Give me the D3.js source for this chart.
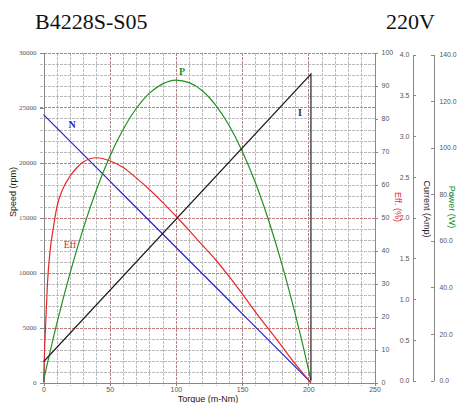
<!DOCTYPE html>
<html>
<head>
<meta charset="utf-8">
<script src="https://cdn.jsdelivr.net/npm/d3@7"></script>
<style>
  body { margin: 0; background: #fff; }
  svg { display: block; }
  .tk text { font-family: "Liberation Sans", Arial, sans-serif; fill: #555; }
  .tk path, .tk line { stroke: #888; shape-rendering: crispEdges; }
</style>
</head>
<body>
<svg></svg>
<script>
// torque grid (m-Nm)
var torque = [0, 10, 20, 30, 40, 50, 60, 70, 80, 90, 100, 110, 120, 130, 140, 150, 160, 170, 180, 190, 200, 202];
var speed = [24350, 23145, 21939, 20734, 19528, 18323, 17117, 15912, 14707, 13501, 12296, 11090, 9885, 8679, 7474, 6268, 5063, 3857, 2652, 1447, 241, 0];
var power = [0, 24.3, 46.0, 65.2, 81.9, 96.1, 107.7, 116.8, 123.4, 127.4, 129.0, 127.9, 124.4, 118.3, 109.7, 98.6, 85.0, 68.8, 50.1, 28.8, 5.1, 0];

var effTorque = [0, 1, 2, 3, 5, 7.5, 10, 15, 20, 25, 30, 40, 50, 60, 70, 80, 90, 100, 110, 120, 130, 140, 150, 160, 170, 180, 190, 200, 202];
var eff = [0, 12, 21, 30, 40, 47, 53, 59, 62.5, 65, 66.8, 68.1, 67.2, 65.2, 62, 58.5, 54.6, 50.4, 46.1, 41.6, 37.2, 32.2, 26.9, 21.4, 16.2, 11.0, 5.7, 0.9, 0];

var curTorque = [0, 202, 202];
var current = [0.23, 3.76, 0];

var xTicks = [0, 50, 100, 150, 200, 250];
var speedTicks = [0, 5000, 10000, 15000, 20000, 25000, 30000];
var effTicks = [0, 10, 20, 30, 40, 50, 60, 70, 80, 90, 100];
var curTicks = [0, 0.5, 1.0, 1.5, 2.0, 2.5, 3.0, 3.5, 4.0];
var powTicks = [0, 20, 40, 60, 80, 100, 120, 140];

var W = 457, H = 403;
var svg = d3.select("svg").attr("width", W).attr("height", H);

var x = d3.scaleLinear().domain([0, 250]).range([43.5, 374.5]);
var ySpd = d3.scaleLinear().domain([0, 30000]).range([382.5, 52.5]);
var yEff = d3.scaleLinear().domain([0, 100]).range([382.5, 52.5]);
var yCur = d3.scaleLinear().domain([0, 4]).range([380.5, 54.5]);
var yPow = d3.scaleLinear().domain([0, 140]).range([380.5, 54.5]);

// grid
var grid = svg.append("g").style("shape-rendering", "crispEdges");
grid.selectAll(".vg").data(d3.range(10, 251, 10)).enter().append("line")
    .attr("x1", d => Math.round(x(d)) + 0.5).attr("x2", d => Math.round(x(d)) + 0.5)
    .attr("y1", ySpd(30000)).attr("y2", ySpd(0) + 3)
    .attr("stroke", d => d % 50 == 0 ? "#bd7f7f" : "#bcbcbc")
    .attr("stroke-dasharray", "3,1");
grid.selectAll(".hg").data(d3.range(1000, 30001, 1000)).enter().append("line")
    .attr("x1", x(0) - 4).attr("x2", x(250))
    .attr("y1", d => Math.round(ySpd(d)) + 0.5).attr("y2", d => Math.round(ySpd(d)) + 0.5)
    .attr("stroke", d => d % 5000 == 0 ? "#bd7f7f" : "#bcbcbc")
    .attr("stroke-dasharray", "3,1");

// axes
svg.append("g").attr("class", "tk")
    .attr("transform", "translate(0," + ySpd(0) + ")")
    .call(d3.axisBottom(x).tickValues(xTicks).tickSize(3).tickSizeOuter(0).tickPadding(2))
    .selectAll("text").style("font-size", "7px");
svg.append("g").attr("class", "tk")
    .attr("transform", "translate(" + x(0) + ",0)")
    .call(d3.axisLeft(ySpd).tickValues(speedTicks).tickFormat(d3.format("d")).tickSize(4).tickSizeOuter(0).tickPadding(3))
    .selectAll("text").style("font-size", "7px").style("font-family", "'Liberation Serif', serif");
svg.append("g").attr("class", "tk")
    .attr("transform", "translate(" + x(250) + ",0)")
    .call(d3.axisRight(yEff).tickValues(effTicks).tickSize(3).tickSizeOuter(0).tickPadding(4))
    .selectAll("text").style("font-size", "7px");
svg.append("g").attr("class", "tk")
    .attr("transform", "translate(412.5,0)")
    .call(d3.axisLeft(yCur).tickValues(curTicks).tickFormat(d3.format(".1f")).tickSize(-3).tickSizeOuter(0).tickPadding(3))
    .selectAll("text").style("font-size", "7px");
svg.append("g").attr("class", "tk")
    .attr("transform", "translate(433.5,0)")
    .call(d3.axisRight(yPow).tickValues(powTicks).tickFormat(d3.format(".1f")).tickSize(-3).tickSizeOuter(0).tickPadding(6))
    .selectAll("text").style("font-size", "6.8px");

// series
function drawLine(xs, ys, yScale, color, width, curve) {
    var pts = xs.map((t, i) => [t, ys[i]]);
    svg.append("path")
        .datum(pts)
        .attr("fill", "none")
        .attr("stroke", color)
        .attr("stroke-width", width)
        .attr("d", d3.line().x(d => x(d[0])).y(d => yScale(d[1])).curve(curve || d3.curveLinear));
}
drawLine(torque, speed, ySpd, "#2323d6", 1.2);
drawLine(effTorque, eff, yEff, "#e8262a", 1.2, d3.curveMonotoneX);
drawLine(torque, power, yPow, "#239023", 1.2, d3.curveMonotoneX);
drawLine(curTorque, current, yCur, "#202020", 1.2);

// curve labels
var lab = svg.append("g").style("font-family", "'Liberation Serif', serif").style("font-weight", "bold").style("font-size", "10px");
lab.append("text").attr("x", 72).attr("y", 128).attr("text-anchor", "middle").attr("fill", "#2323d6").text("N");
lab.append("text").attr("x", 182).attr("y", 75).attr("text-anchor", "middle").attr("fill", "#239023").text("P");
lab.append("text").attr("x", 300).attr("y", 116).attr("text-anchor", "middle").attr("fill", "#333").text("I");
lab.append("text").attr("x", 70).attr("y", 248).attr("text-anchor", "middle").attr("fill", "#e8262a").style("font-weight", "normal").text("Eff");

// axis titles
var ttl = svg.append("g").style("font-family", "'Liberation Sans', Arial, sans-serif").style("font-size", "9px");
ttl.append("text").attr("transform", "translate(16,192) rotate(-90)").attr("text-anchor", "middle").attr("fill", "#222").text("Speed (rpm)");
ttl.append("text").attr("x", 208).attr("y", 402).attr("text-anchor", "middle").attr("fill", "#222").text("Torque (m-Nm)");
ttl.append("text").attr("transform", "translate(395,207) rotate(90)").attr("text-anchor", "middle").attr("fill", "#e8262a").text("Eff. (%)");
ttl.append("text").attr("transform", "translate(424,209) rotate(90)").attr("text-anchor", "middle").attr("fill", "#222").text("Current (Amp)");
ttl.append("text").attr("transform", "translate(449,207) rotate(90)").attr("text-anchor", "middle").attr("fill", "#239023").text("Power (W)");

// headings
svg.append("text").attr("x", 35).attr("y", 29).style("font-family", "'Liberation Serif', serif").style("font-size", "22px").attr("fill", "#111").text("B4228S-S05");
svg.append("text").attr("x", 386).attr("y", 29).style("font-family", "'Liberation Serif', serif").style("font-size", "22px").attr("fill", "#111").text("220V");
</script>
</body>
</html>
